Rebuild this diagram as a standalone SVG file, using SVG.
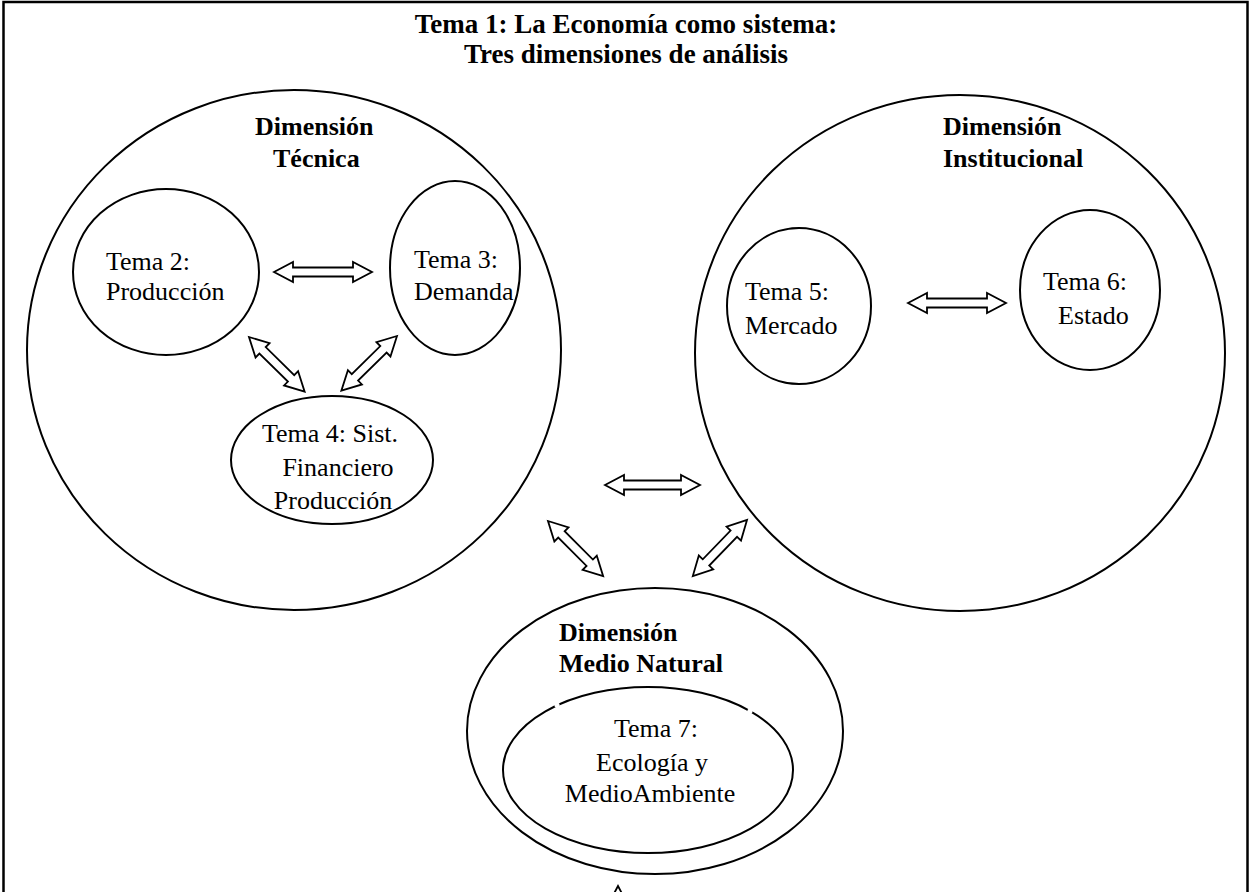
<svg xmlns="http://www.w3.org/2000/svg" width="1251" height="892" viewBox="0 0 1251 892">
<style>
.sh{fill:#fff;stroke:#000;stroke-width:2}
.ar{fill:#fff;stroke:#000;stroke-width:1.8;stroke-linejoin:miter}
.t{font-family:"Liberation Serif","Times New Roman",serif;font-size:26px;fill:#000}
.b{font-weight:bold}
.ttl{font-size:27px}
</style>
<defs>
<polygon id="a98" points="0,0 19,-10 19,-4.5 79,-4.5 79,-10 98,0 79,10 79,4.5 19,4.5 19,10"/>
<polygon id="a78" points="0,0 19,-10 19,-4.5 59,-4.5 59,-10 78,0 59,10 59,4.5 19,4.5 19,10"/>
<polygon id="a95" points="0,0 19,-10 19,-4.5 76,-4.5 76,-10 95,0 76,10 76,4.5 19,4.5 19,10"/>
</defs>
<rect x="0" y="0" width="1251" height="892" fill="#fff"/>
<rect x="3.5" y="2" width="1244" height="920" fill="none" stroke="#000" stroke-width="2.5"/>
<g id="title">
<text class="t b ttl" x="626" y="33" text-anchor="middle">Tema 1: La Economía como sistema:</text>
<text class="t b ttl" x="626" y="63" text-anchor="middle">Tres dimensiones de análisis</text>
</g>
<g id="tecnica">
<ellipse class="sh" cx="294" cy="350" rx="267" ry="260"/>
<text class="t b" x="255" y="135">Dimensión</text>
<text class="t b" x="273" y="167">Técnica</text>
</g>
<g id="tema2">
<ellipse class="sh" cx="166" cy="272" rx="93" ry="83"/>
<text class="t" x="106" y="270">Tema 2:</text>
<text class="t" x="106" y="300">Producción</text>
</g>
<g id="tema3">
<ellipse class="sh" cx="455" cy="268" rx="65" ry="87"/>
<text class="t" x="414" y="268">Tema 3:</text>
<text class="t" x="414" y="300">Demanda</text>
</g>
<g id="tema4">
<ellipse class="sh" cx="332" cy="460" rx="101" ry="64"/>
<text class="t" x="330" y="442" text-anchor="middle">Tema 4: Sist.</text>
<text class="t" x="338" y="476" text-anchor="middle">Financiero</text>
<text class="t" x="333" y="509" text-anchor="middle">Producción</text>
</g>
<g id="institucional">
<ellipse class="sh" cx="960" cy="353" rx="265" ry="258"/>
<text class="t b" x="943" y="135">Dimensión</text>
<text class="t b" x="943" y="167">Institucional</text>
</g>
<g id="tema5">
<ellipse class="sh" cx="799" cy="306" rx="72" ry="78"/>
<text class="t" x="745" y="300">Tema 5:</text>
<text class="t" x="745" y="334">Mercado</text>
</g>
<g id="tema6">
<ellipse class="sh" cx="1090" cy="290" rx="70" ry="80"/>
<text class="t" x="1043" y="290">Tema 6:</text>
<text class="t" x="1058" y="324">Estado</text>
</g>
<g id="medio">
<ellipse class="sh" cx="655" cy="731" rx="188" ry="143"/>
<text class="t b" x="559" y="641">Dimensión</text>
<text class="t b" x="559" y="672">Medio Natural</text>
</g>
<g id="tema7">
<ellipse class="sh" cx="648" cy="770" rx="145" ry="83"/>
<circle cx="557" cy="705" r="2.6" fill="#fff"/>
<circle cx="750" cy="711" r="2.6" fill="#fff"/>
<text class="t" x="656" y="737" text-anchor="middle">Tema 7:</text>
<text class="t" x="652" y="771" text-anchor="middle">Ecología y</text>
<text class="t" x="650" y="802" text-anchor="middle">MedioAmbiente</text>
</g>
<g id="connectors">
<use href="#a98" class="ar" transform="translate(274,272)"/>
<use href="#a78" class="ar" transform="translate(249,337) rotate(44.5)"/>
<use href="#a78" class="ar" transform="translate(397,336) rotate(135.5)"/>
<use href="#a98" class="ar" transform="translate(908,303)"/>
<use href="#a95" class="ar" transform="translate(605,485)"/>
<use href="#a78" class="ar" transform="translate(548,521) rotate(45)"/>
<use href="#a78" class="ar" transform="translate(747,520) rotate(134)"/>
<use href="#a78" class="ar" transform="translate(618,886) rotate(90)"/>
</g>
</svg>
